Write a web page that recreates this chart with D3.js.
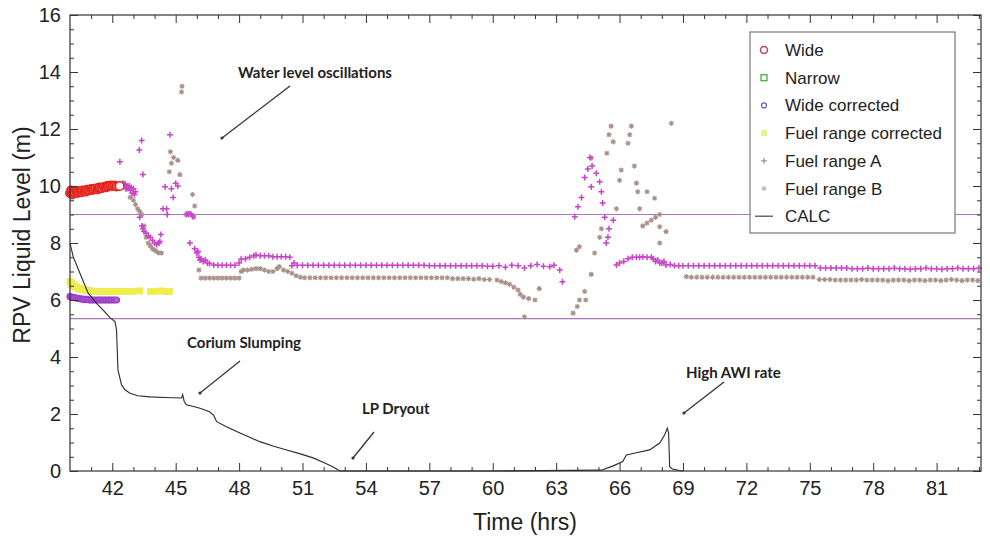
<!DOCTYPE html>
<html><head><meta charset="utf-8">
<script src="https://cdn.jsdelivr.net/npm/d3@7"></script>
<style>
html,body{margin:0;padding:0;background:#fff;}
svg{display:block;}
text{font-family:"Liberation Sans",Arial,sans-serif;}
.ann{font-family:Lato,"Liberation Sans",sans-serif;font-weight:700;}
</style></head>
<body>
<svg id="c" width="990" height="542"></svg>
<script>
// ---------- data ----------
const xMajorTicks = [42,45,48,51,54,57,60,63,66,69,72,75,78,81];
const yMajorTicks = [0,2,4,6,8,10,12,14,16];
const refLines = [9.0, 5.35];

const calc = [[40.0,8.0],[40.15,7.52],[40.47,6.94],[40.86,6.24],[41.26,5.88],[41.6,5.62],[41.9,5.37],[42.13,5.24],[42.2,4.95],[42.27,3.54],[42.44,3.02],[42.6,2.85],[42.84,2.73],[43.2,2.64],[43.78,2.6],[44.5,2.58],[45.28,2.56],[45.33,2.68],[45.4,2.45],[45.5,2.32],[45.8,2.27],[46.15,2.2],[46.6,2.08],[46.8,1.95],[46.94,1.73],[47.4,1.55],[48.04,1.33],[48.5,1.18],[48.98,1.03],[49.6,0.88],[50.25,0.74],[50.9,0.6],[51.5,0.46],[52.0,0.3],[52.43,0.15],[52.77,0],[55,0],[60,0],[65.14,0.03],[65.7,0.18],[66.15,0.33],[66.32,0.56],[66.8,0.64],[67.42,0.74],[67.9,0.98],[68.13,1.26],[68.26,1.5],[68.32,1.33],[68.37,0.15],[68.5,0.07],[68.84,0.02],[69.0,0]];

const wide = [[40.0,9.75],[40.05,9.85],[40.1,9.7],[40.15,9.8],[40.2,9.78],[40.3,9.82],[40.35,9.75],[40.4,9.8],[40.5,9.82],[40.55,9.78],[40.6,9.85],[40.7,9.83],[40.75,9.8],[40.8,9.87],[40.9,9.85],[41.0,9.9],[41.05,9.86],[41.1,9.9],[41.2,9.92],[41.3,9.88],[41.35,9.93],[41.4,9.95],[41.5,9.92],[41.6,9.97],[41.7,9.95],[41.75,10.0],[41.8,9.98],[41.9,10.02],[42.0,10.0],[42.1,10.02],[42.2,9.98],[42.35,10.0]];

const narrow = [];

const wideCorrected = [[40.0,6.12],[40.1,6.1],[40.2,6.08],[40.3,6.07],[40.4,6.05],[40.5,6.04],[40.6,6.03],[40.7,6.02],[40.8,6.02],[40.9,6.0],[41.0,6.0],[41.1,6.0],[41.2,6.0],[41.3,6.0],[41.4,6.0],[41.5,6.0],[41.6,6.0],[41.7,6.0],[41.8,6.0],[41.9,6.0],[42.0,6.0],[42.1,6.0],[42.2,6.0]];

const fuelCorrected = [[40.0,6.65],[40.05,6.55],[40.1,6.6],[40.15,6.5],[40.2,6.5],[40.25,6.45],[40.3,6.45],[40.4,6.4],[40.45,6.42],[40.5,6.38],[40.6,6.36],[40.7,6.35],[40.8,6.34],[40.9,6.33],[41.0,6.32],[41.1,6.3],[41.2,6.3],[41.3,6.3],[41.4,6.3],[41.5,6.3],[41.6,6.3],[41.7,6.3],[41.8,6.3],[41.9,6.29],[42.0,6.3],[42.1,6.3],[42.3,6.3],[42.5,6.3],[42.7,6.3],[43.0,6.3],[43.3,6.32],[43.8,6.3],[44.0,6.3],[44.3,6.32],[44.5,6.3],[44.7,6.3]];

const fuelA = [[42.36,10.85],[42.5,10.1],[42.6,10.05],[42.65,9.9],[42.7,10.0],[42.75,9.95],[42.8,10.0],[42.85,9.85],[42.9,9.95],[42.95,9.75],[43.0,9.9],[43.05,9.7],[43.1,9.8],
[43.28,11.26],[43.39,11.6],[43.45,10.4],
[43.3,8.9],[43.4,8.6],[43.45,8.5],[43.5,8.4],[43.6,8.35],[43.7,8.25],[43.8,8.2],[43.9,8.1],[44.0,8.0],[44.1,7.95],[44.2,8.0],[44.25,8.05],
[44.3,8.3],[44.4,9.2],[44.5,9.97],[44.57,9.2],[44.6,9.0],[44.73,11.8],[44.8,9.9],[44.88,9.6],[45.0,10.1],[45.1,10.0],
[45.5,9.0],[45.6,9.0],[45.7,9.02],[45.8,8.95],
[45.67,8.0],[45.9,7.8],[46.0,7.65],[46.06,7.7],[46.1,7.5],[46.15,7.4],[46.2,7.45],[46.3,7.35],[46.4,7.4],[46.5,7.3],[46.6,7.28],[46.8,7.23],[47.0,7.22],[47.2,7.22],[47.4,7.22],[47.6,7.22],[47.8,7.22],
[48.0,7.3],[48.1,7.44],[48.3,7.45],[48.5,7.5],[48.7,7.55],[48.8,7.58],[49.0,7.55],[49.2,7.55],[49.4,7.55],[49.6,7.52],[49.8,7.52],[50.0,7.52],[50.2,7.52],[50.4,7.5],[50.5,7.2],[50.6,7.3],
[50.75,7.22],[51.0,7.22],[51.25,7.22],[51.5,7.22],[51.75,7.22],[52.0,7.22],[52.25,7.22],[52.5,7.22],[52.75,7.22],[53.0,7.22],[53.25,7.22],[53.5,7.22],[53.75,7.22],[54.0,7.22],[54.25,7.22],[54.5,7.22],[54.75,7.22],[55.0,7.22],[55.25,7.22],[55.5,7.22],[55.75,7.22],[56.0,7.22],[56.25,7.22],[56.5,7.22],[56.75,7.22],[57.0,7.2],[57.25,7.2],[57.5,7.2],[57.75,7.2],[58.0,7.2],[58.25,7.2],[58.5,7.2],[58.75,7.2],[59.0,7.2],[59.25,7.2],[59.5,7.2],[59.75,7.18],[60.0,7.18],
[60.3,7.2],[60.6,7.15],[60.9,7.22],[61.2,7.2],[61.5,7.12],[61.8,7.2],[62.1,7.25],[62.4,7.18],[62.7,7.17],[62.9,7.22],[63.17,7.05],[63.3,6.64],
[63.88,8.92],[64.03,9.27],[64.2,9.6],[64.35,10.3],[64.5,10.6],[64.6,11.0],[64.66,9.97],[64.7,10.7],[64.9,10.45],[65.06,10.15],[65.14,9.8],[65.2,9.4],[65.3,8.9],[65.37,8.0],[65.45,8.2],[65.5,8.5],[65.7,8.8],
[65.85,7.23],[66.0,7.3],[66.2,7.35],[66.4,7.45],[66.6,7.5],[66.8,7.5],[66.95,7.5],[67.1,7.52],[67.3,7.5],[67.5,7.5],[67.6,7.45],[67.7,7.35],[67.8,7.4],[67.9,7.3],[68.0,7.3],[68.1,7.35],[68.2,7.23],[68.4,7.25],[68.6,7.2],[68.8,7.2],
[69.0,7.2],[69.25,7.2],[69.5,7.2],[69.75,7.2],[70.0,7.2],[70.25,7.2],[70.5,7.2],[70.75,7.2],[71.0,7.2],[71.25,7.2],[71.5,7.2],[71.75,7.2],[72.0,7.2],[72.25,7.2],[72.5,7.2],[72.75,7.2],[73.0,7.2],[73.25,7.2],[73.5,7.2],[73.75,7.2],[74.0,7.2],[74.25,7.2],[74.5,7.2],[74.75,7.2],[75.0,7.2],[75.25,7.2],
[75.5,7.12],[75.75,7.12],[76.0,7.12],[76.25,7.12],[76.5,7.12],[76.75,7.12],[77.0,7.1],[77.25,7.1],[77.5,7.1],[77.75,7.12],[78.0,7.1],[78.25,7.1],[78.5,7.1],[78.75,7.1],[79.0,7.12],[79.25,7.1],[79.5,7.1],[79.75,7.08],[80.0,7.1],[80.25,7.1],[80.5,7.12],[80.75,7.1],[81.0,7.1],[81.25,7.08],[81.5,7.1],[81.75,7.1],[82.0,7.12],[82.25,7.1],[82.5,7.1],[82.75,7.1],[83.0,7.12]];

const fuelB = [[42.55,10.1],[42.7,9.9],[42.85,9.6],[43.0,9.5],[43.1,9.35],[43.2,9.2],[43.3,9.1],[43.4,9.0],[43.5,8.6],[43.6,8.2],[43.7,8.0],[43.8,7.9],[43.9,7.8],[44.0,7.75],[44.1,7.7],[44.2,7.65],[44.33,7.65],
[44.7,10.5],[44.75,11.2],[44.8,10.8],[44.9,11.0],[45.1,10.9],[45.2,10.4],[45.28,13.3],[45.3,13.5],[45.8,9.7],[45.9,9.3],[45.5,9.0],[45.6,9.05],[45.75,9.0],[45.85,8.9],
[46.1,7.05],[46.2,6.77],[46.4,6.77],[46.6,6.77],[46.8,6.77],[47.0,6.77],[47.2,6.77],[47.4,6.77],[47.6,6.77],[47.8,6.77],[48.0,6.77],
[48.1,7.0],[48.2,7.05],[48.4,7.05],[48.6,7.08],[48.8,7.1],[49.0,7.1],[49.2,7.05],[49.4,7.0],[49.6,7.0],[49.8,7.1],[49.9,7.17],[50.1,7.05],[50.3,7.0],[50.5,6.94],[50.7,6.85],[50.9,6.8],
[51.1,6.78],[51.35,6.78],[51.6,6.78],[51.85,6.78],[52.1,6.78],[52.35,6.78],[52.6,6.78],[52.85,6.78],[53.1,6.78],[53.35,6.78],[53.6,6.78],[53.85,6.78],[54.1,6.78],[54.35,6.78],[54.6,6.78],[54.85,6.78],[55.1,6.78],[55.35,6.78],[55.6,6.78],[55.85,6.78],[56.1,6.78],[56.35,6.78],[56.6,6.78],[56.85,6.78],[57.1,6.78],[57.35,6.78],[57.6,6.78],[57.85,6.78],
[58.1,6.75],[58.35,6.75],[58.6,6.75],[58.85,6.75],[59.1,6.73],[59.35,6.75],[59.6,6.72],[59.85,6.72],
[60.2,6.7],[60.4,6.65],[60.6,6.6],[60.8,6.55],[61.0,6.45],[61.2,6.35],[61.3,6.2],[61.45,6.1],[61.5,5.41],[61.7,6.05],[62.0,6.0],[62.2,6.4],
[63.8,5.54],[64.0,5.77],[64.1,6.0],[64.35,6.3],[64.4,6.0],[63.96,7.75],[64.1,7.87],[64.66,6.9],[64.82,7.65],[64.66,10.98],[65.06,8.2],[65.14,8.5],
[65.4,11.15],[65.5,11.8],[65.6,12.1],[65.7,11.55],[65.85,9.2],[66.0,10.2],[66.08,10.56],[66.4,11.5],[66.48,11.8],[66.56,12.1],[66.7,10.7],[66.8,10.1],[66.86,9.8],[66.95,9.2],
[67.1,8.6],[67.3,8.7],[67.5,8.8],[67.7,8.9],[67.9,9.0],[67.3,9.8],[67.66,9.57],[67.9,8.57],[68.2,8.4],[67.9,8.0],[68.45,12.2],
[69.16,6.82],[69.4,6.8],[69.65,6.8],[69.9,6.8],[70.15,6.8],[70.4,6.8],[70.65,6.8],[70.9,6.8],[71.15,6.8],[71.4,6.8],[71.65,6.8],[71.9,6.8],[72.15,6.8],[72.4,6.8],[72.65,6.8],[72.9,6.8],[73.15,6.8],[73.4,6.8],[73.65,6.8],[73.9,6.8],[74.15,6.8],[74.4,6.8],[74.65,6.8],[74.9,6.8],[75.15,6.8],
[75.45,6.72],[75.7,6.72],[75.95,6.72],[76.2,6.7],[76.45,6.7],[76.7,6.7],[76.95,6.7],[77.2,6.7],[77.45,6.72],[77.7,6.7],[77.95,6.7],[78.2,6.7],[78.45,6.7],[78.7,6.68],[78.95,6.7],[79.2,6.7],[79.45,6.7],[79.7,6.68],[79.95,6.7],[80.2,6.7],[80.45,6.68],[80.7,6.7],[80.95,6.7],[81.2,6.68],[81.45,6.7],[81.7,6.72],[81.95,6.7],[82.2,6.68],[82.45,6.7],[82.7,6.7],[82.95,6.68]];

const legendLabels = ["Wide","Narrow","Wide corrected","Fuel range corrected","Fuel range A","Fuel range B","CALC"];
const annotations = [
  {text:"Water level oscillations", tx:238, ty:78, x1:290, y1:86, x2:222, y2:138},
  {text:"Corium Slumping", tx:187, ty:348, x1:240, y1:361, x2:200, y2:393},
  {text:"LP Dryout", tx:362, ty:414, x1:374, y1:432, x2:353, y2:458},
  {text:"High AWI rate", tx:686, ty:378, x1:724, y1:382, x2:684, y2:413}
];

// ---------- layout ----------
const L=70, R=981, T=15, B=471;
const svg = d3.select("#c");
const x = d3.scaleLinear().domain([40,83.1]).range([L,R]);
const y = d3.scaleLinear().domain([0,16]).range([B,T]);
const xMinor = d3.range(41,84,1).filter(v=>!xMajorTicks.includes(v));
const yMinor = d3.range(0,16.01,0.5).filter(v=>!yMajorTicks.includes(v));

const C = {wide:"#e0241c", narrow:"#3aa83a", wc:"#9a3cc8", fc:"#f0f040", A:"#c844c8", B:"#a89088", calc:"#2a2a2a", ref:"#a878b8"};

// reference lines
svg.selectAll("line.ref").data(refLines).enter().append("line")
  .attr("x1",L).attr("x2",R).attr("y1",d=>y(d)).attr("y2",d=>y(d))
  .attr("stroke",C.ref).attr("stroke-width",1.2);

// series
const plus = "M-3,0H3M0,-3V3";
const star = "M-2.6,0H2.6M0,-2.6V2.6M-1.9,-1.9L1.9,1.9M-1.9,1.9L1.9,-1.9";

svg.append("g").selectAll("path").data(fuelB).enter().append("path")
  .attr("d",star).attr("transform",d=>`translate(${x(d[0])},${y(d[1])})`)
  .attr("fill","none").attr("stroke",C.B).attr("stroke-width",1.1);

svg.append("g").selectAll("path").data(fuelA).enter().append("path")
  .attr("d",plus).attr("transform",d=>`translate(${x(d[0])},${y(d[1])})`)
  .attr("fill","none").attr("stroke",C.A).attr("stroke-width",1.5);

svg.append("g").selectAll("rect").data(fuelCorrected).enter().append("rect")
  .attr("x",d=>x(d[0])-3).attr("y",d=>y(d[1])-3).attr("width",6).attr("height",6)
  .attr("fill",C.fc).attr("stroke","#eaea60").attr("stroke-width",0.8);

svg.append("g").selectAll("circle").data(wideCorrected).enter().append("circle")
  .attr("cx",d=>x(d[0])).attr("cy",d=>y(d[1])).attr("r",3)
  .attr("fill","#b060d0").attr("stroke",C.wc).attr("stroke-width",1.2);

svg.append("g").selectAll("rect").data(narrow).enter().append("rect")
  .attr("x",d=>x(d[0])-3).attr("y",d=>y(d[1])-3).attr("width",6).attr("height",6)
  .attr("fill","none").attr("stroke",C.narrow);

svg.append("g").selectAll("circle").data(wide).enter().append("circle")
  .attr("cx",d=>x(d[0])).attr("cy",d=>y(d[1])).attr("r",4.2)
  .attr("fill",(d,i)=>i===wide.length-1?"#fff":"#f05050").attr("stroke",C.wide).attr("stroke-width",1.4);

svg.append("path").datum(calc)
  .attr("d",d3.line().x(d=>x(d[0])).y(d=>y(d[1])))
  .attr("fill","none").attr("stroke",C.calc).attr("stroke-width",1.1);

// frame + axes
svg.append("rect").attr("x",L).attr("y",T).attr("width",R-L).attr("height",B-T)
  .attr("fill","none").attr("stroke","#333").attr("stroke-width",1.2);

function styleAxis(g){ g.select(".domain").remove(); g.selectAll("line").attr("stroke","#333"); g.selectAll("text").attr("fill","#222").style("font-size","20px").style("font-family","'Liberation Sans',Arial,sans-serif"); }

svg.append("g").attr("transform",`translate(0,${B})`).call(d3.axisBottom(x).tickValues(xMajorTicks).tickSize(-8).tickPadding(10).tickFormat(d3.format("d"))).call(styleAxis);
svg.append("g").attr("transform",`translate(0,${B})`).call(d3.axisBottom(x).tickValues(xMinor).tickSize(-4).tickFormat("")).call(styleAxis);
svg.append("g").attr("transform",`translate(0,${T})`).call(d3.axisTop(x).tickValues(xMajorTicks).tickSize(-8).tickFormat("")).call(styleAxis);
svg.append("g").attr("transform",`translate(0,${T})`).call(d3.axisTop(x).tickValues(xMinor).tickSize(-4).tickFormat("")).call(styleAxis);
svg.append("g").attr("transform",`translate(${L},0)`).call(d3.axisLeft(y).tickValues(yMajorTicks).tickSize(-8).tickPadding(9).tickFormat(d3.format("d"))).call(styleAxis);
svg.append("g").attr("transform",`translate(${L},0)`).call(d3.axisLeft(y).tickValues(yMinor).tickSize(-4).tickFormat("")).call(styleAxis);
svg.append("g").attr("transform",`translate(${R},0)`).call(d3.axisRight(y).tickValues(yMajorTicks).tickSize(-8).tickFormat("")).call(styleAxis);
svg.append("g").attr("transform",`translate(${R},0)`).call(d3.axisRight(y).tickValues(yMinor).tickSize(-4).tickFormat("")).call(styleAxis);

// axis titles
svg.append("text").attr("x",525).attr("y",530).attr("text-anchor","middle")
  .style("font-size","23px").attr("fill","#222").text("Time (hrs)");
svg.append("text").attr("transform",`translate(30,${(T+B)/2 - 8}) rotate(-90)`).attr("text-anchor","middle")
  .style("font-size","23px").attr("fill","#222").text("RPV Liquid Level (m)");

// annotations
const ag = svg.append("g");
annotations.forEach(a=>{
  ag.append("text").attr("class","ann").attr("x",a.tx).attr("y",a.ty).style("font-size","15px").attr("fill","#222").text(a.text);
  ag.append("line").attr("x1",a.x1).attr("y1",a.y1).attr("x2",a.x2).attr("y2",a.y2).attr("stroke","#333").attr("stroke-width",1.3);
  ag.append("circle").attr("cx",a.x2).attr("cy",a.y2).attr("r",1.6).attr("fill","#333");
});

// legend
const lg = svg.append("g");
lg.append("rect").attr("x",750).attr("y",32).attr("width",205).attr("height",201)
  .attr("fill","#fff").attr("stroke","#777").attr("stroke-width",1.2);
const rowY = i => 50 + i*27.7;
legendLabels.forEach((lab,i)=>{
  lg.append("text").attr("x",785).attr("y",rowY(i)+6).style("font-size","17px").attr("fill","#222").text(lab);
});
const mx = 764;
lg.append("circle").attr("cx",mx).attr("cy",rowY(0)).attr("r",3.5).attr("fill","none").attr("stroke","#c04050").attr("stroke-width",1.5);
lg.append("rect").attr("x",mx-3).attr("y",rowY(1)-3).attr("width",6).attr("height",6).attr("fill","none").attr("stroke",C.narrow).attr("stroke-width",1.2);
lg.append("circle").attr("cx",mx).attr("cy",rowY(2)).attr("r",2.5).attr("fill","none").attr("stroke","#6060c0").attr("stroke-width",1.2);
lg.append("rect").attr("x",mx-3).attr("y",rowY(3)-3).attr("width",6).attr("height",6).attr("fill","#e8f090");
lg.append("path").attr("d","M-3,0H3M0,-3V3").attr("transform",`translate(${mx},${rowY(4)})`).attr("stroke","#999").attr("stroke-width",1.3);
lg.append("path").attr("d",star).attr("transform",`translate(${mx},${rowY(5)})`).attr("stroke","#c0c0c0").attr("stroke-width",1.2);
lg.append("line").attr("x1",755).attr("x2",773).attr("y1",rowY(6)).attr("y2",rowY(6)).attr("stroke","#444").attr("stroke-width",1.2);
</script>
</body></html>
